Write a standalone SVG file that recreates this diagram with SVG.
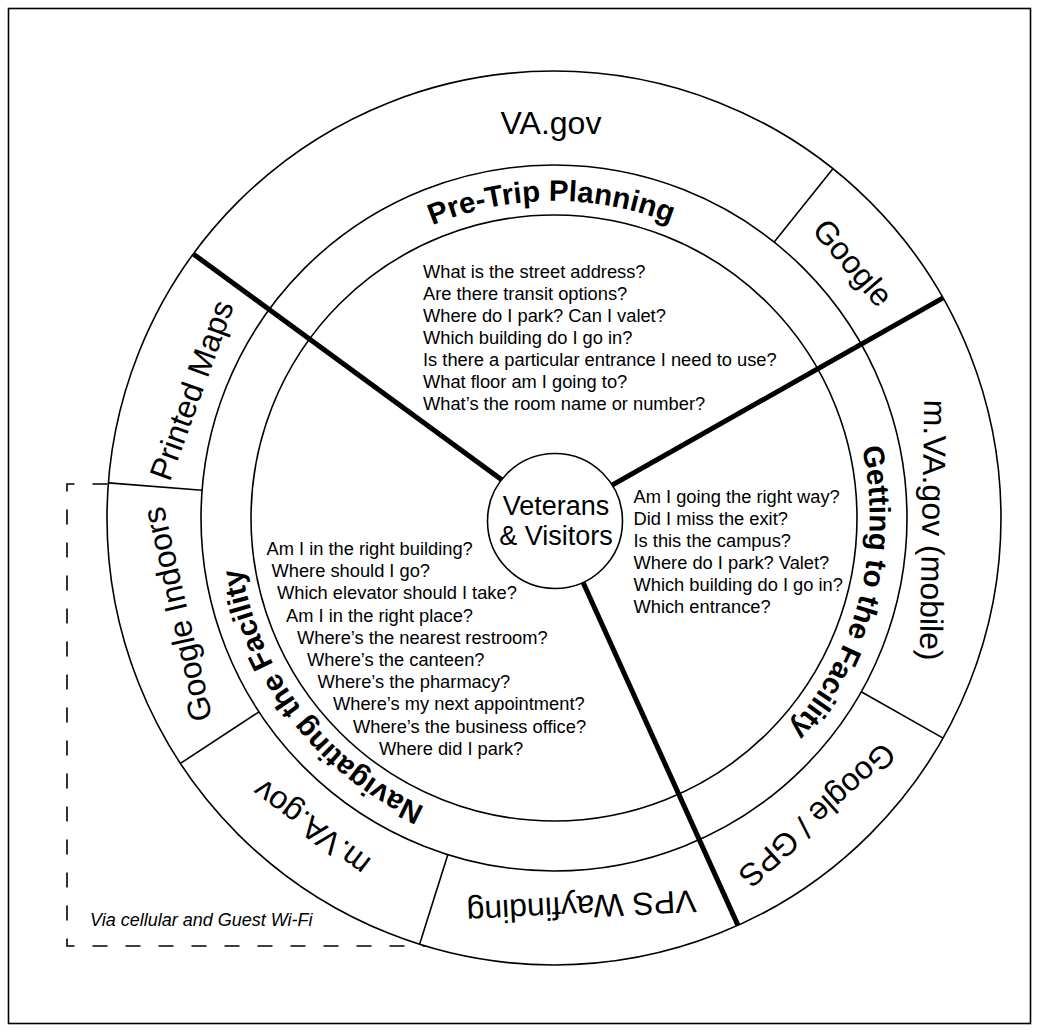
<svg xmlns="http://www.w3.org/2000/svg" width="1039" height="1032" viewBox="0 0 1039 1032">
<style>
.ln{fill:none;stroke:#000;stroke-width:1.6}
.thick{stroke:#000;stroke-width:5;stroke-linecap:butt}
.thin{stroke:#000;stroke-width:1.6}
.lbl{font-family:"Liberation Sans",Arial,Helvetica,sans-serif;font-size:32px;fill:#000;text-anchor:middle}
.ttl{font-family:"Liberation Sans",Arial,Helvetica,sans-serif;font-size:29.5px;font-weight:bold;fill:#000;text-anchor:middle}
.q{font-family:"Liberation Sans",Arial,Helvetica,sans-serif;font-size:18.3px;fill:#000}
.ctr{font-family:"Liberation Sans",Arial,Helvetica,sans-serif;font-size:27px;fill:#000;text-anchor:middle}
.note{font-family:"Liberation Sans",Arial,Helvetica,sans-serif;font-size:18px;font-style:italic;fill:#000}
</style>
<defs>
<path id="arcPre" d="M237.01,520.77 A317,317 0 0 1 870.99,515.23"/>
<path id="arcGet" d="M633.37,211.1 A317,317 0 0 1 474.63,824.9"/>
<path id="arcNav" d="M746.98,769.49 A317,317 0 0 1 361.02,266.51"/>
</defs>
<rect x="0" y="0" width="1039" height="1032" fill="#fff"/>
<rect x="8.5" y="8.5" width="1022" height="1015" class="ln"/>
<g id="wifi-zone">
<path d="M130,484 H67 V946 H450" fill="none" stroke="#000" stroke-width="1.6" stroke-dasharray="15 18" stroke-dashoffset="10.5"/>
</g>
<g id="rings">
<circle cx="554" cy="518" r="447" fill="#fff" stroke="#000" stroke-width="1.6"/>
<circle cx="554" cy="518" r="353" class="ln"/>
<circle cx="554" cy="518" r="303" class="ln"/>
</g>
<g id="connectors">
<line class="thin" x1="774.2" y1="242.1" x2="832.9" y2="168.7"/>
<line class="thin" x1="861.2" y1="691.8" x2="943.1" y2="738.1"/>
<line class="thin" x1="447.8" y1="854.7" x2="419.6" y2="944.3"/>
<line class="thin" x1="259.0" y1="711.8" x2="180.4" y2="763.4"/>
<line class="thin" x1="202.1" y1="490.3" x2="108.4" y2="482.9"/>
<line class="thick" x1="554" y1="518" x2="193.3" y2="254.0"/>
<line class="thick" x1="554" y1="518" x2="943.1" y2="297.9"/>
<line class="thick" x1="554" y1="518" x2="738.0" y2="925.4"/>
</g>
<g id="center-node">
<circle cx="555" cy="521" r="67.5" fill="#fff" stroke="#000" stroke-width="1.6"/>
<text class="ctr" x="556" y="515">Veterans</text>
<text class="ctr" x="556" y="545">&amp; Visitors</text>
</g>
<g id="pre-trip">
<text class="ttl"><textPath href="#arcPre" startOffset="50%">Pre-Trip Planning</textPath></text>
<text class="q">
<tspan x="423" y="277.5">What is the street address?</tspan>
<tspan x="423" y="299.6">Are there transit options?</tspan>
<tspan x="423" y="321.7">Where do I park? Can I valet?</tspan>
<tspan x="423" y="343.8">Which building do I go in?</tspan>
<tspan x="423" y="365.9">Is there a particular entrance I need to use?</tspan>
<tspan x="423" y="388">What floor am I going to?</tspan>
<tspan x="423" y="410.1">What’s the room name or number?</tspan>
</text>
</g>
<g id="getting">
<text class="ttl"><textPath href="#arcGet" startOffset="50%">Getting to the Facility</textPath></text>
<text class="q">
<tspan x="633.5" y="502.7">Am I going the right way?</tspan>
<tspan x="633.5" y="524.8">Did I miss the exit?</tspan>
<tspan x="633.5" y="546.9">Is this the campus?</tspan>
<tspan x="633.5" y="569">Where do I park? Valet?</tspan>
<tspan x="633.5" y="591.1">Which building do I go in?</tspan>
<tspan x="633.5" y="613.2">Which entrance?</tspan>
</text>
</g>
<g id="navigating">
<text class="ttl"><textPath href="#arcNav" startOffset="50%">Navigating the Facility</textPath></text>
<text class="q">
<tspan x="266.5" y="555">Am I in the right building?</tspan>
<tspan x="271.5" y="577.2">Where should I go?</tspan>
<tspan x="277" y="599.4">Which elevator should I take?</tspan>
<tspan x="286" y="621.6">Am I in the right place?</tspan>
<tspan x="297" y="643.8">Where’s the nearest restroom?</tspan>
<tspan x="307" y="666">Where’s the canteen?</tspan>
<tspan x="317.5" y="688.2">Where’s the pharmacy?</tspan>
<tspan x="333" y="710.4">Where’s my next appointment?</tspan>
<tspan x="353" y="732.6">Where’s the business office?</tspan>
<tspan x="379" y="754.8">Where did I park?</tspan>
</text>
</g>
<g id="tools">
<text class="lbl" transform="translate(551,134.3)">VA.gov</text>
<text class="lbl" transform="translate(844.5,269.9) rotate(49.5)">Google</text>
<text class="lbl" transform="translate(922,530) rotate(91)">m.VA.gov (mobile)</text>
<text class="lbl" transform="translate(809.8,807.1) rotate(138)">Google / GPS</text>
<text class="lbl" transform="translate(581,896) rotate(177)">VPS Wayfinding</text>
<text class="lbl" transform="translate(318,819) rotate(217)">m.VA.gov</text>
<text class="lbl" transform="translate(188,612) rotate(257)">Google Indoors</text>
<text class="lbl" transform="translate(202,394) rotate(290)">Printed Maps</text>
</g>
<text class="note" x="90" y="925.7">Via cellular and Guest Wi-Fi</text>
</svg>
